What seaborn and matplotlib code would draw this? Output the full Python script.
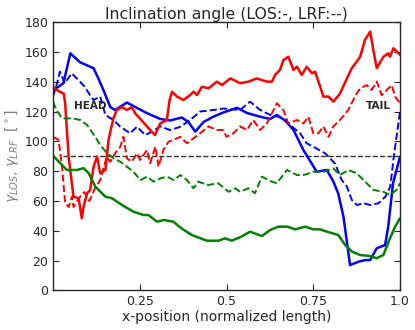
import numpy as np
import pandas as pd
import matplotlib
matplotlib.use('Agg')
import matplotlib.pyplot as plt
import seaborn as sns

# LOS (solid) and LRF (dashed) inclination angles
blue_los_x = [0.0, 0.012, 0.03, 0.05, 0.078, 0.117, 0.131, 0.146, 0.165, 0.179, 0.213, 0.237, 0.27, 0.309, 0.338,
              0.371, 0.39, 0.41, 0.434, 0.462, 0.487, 0.53, 0.559, 0.597, 0.626, 0.645, 0.669, 0.693, 0.722, 0.76,
              0.789, 0.808, 0.822, 0.837, 0.856, 0.88, 0.9, 0.914, 0.933, 0.957, 0.966, 0.98, 1.0]
blue_los_y = [135, 136, 139, 159, 153, 149, 142, 134, 123, 121, 126, 123, 119, 115, 114,
              116, 113, 106.5, 113, 116.5, 119, 122.5, 119, 116.5, 115, 117.7, 114, 107.6, 94, 79.6,
              80.8, 73, 65, 49.5, 17, 19.3, 20.4, 20.4, 28.3, 30.5, 42.8, 72, 89.7]

blue_lrf_x = [0.0, 0.013, 0.02, 0.034, 0.054, 0.078, 0.091, 0.116, 0.136, 0.151, 0.174, 0.194, 0.222, 0.242, 0.266,
              0.285, 0.309, 0.338, 0.367, 0.395, 0.424, 0.462, 0.491, 0.539, 0.568, 0.597, 0.626, 0.65, 0.669, 0.688,
              0.712, 0.731, 0.75, 0.784, 0.813, 0.832, 0.847, 0.861, 0.876, 0.895, 0.914, 0.938, 0.958, 0.972, 0.982, 1.0]
blue_lrf_y = [130, 140, 146.7, 139, 145.6, 140, 136.6, 127.7, 130, 117.7, 114.3, 109.8, 105.4, 109.8, 104.2,
              106.5, 110, 107.5, 109.8, 114.3, 120, 121, 122, 121, 126.6, 121, 117.7, 116.5, 114, 110,
              105.4, 98.7, 96.4, 92, 85, 74, 69.6, 60.7, 57.3, 58.5, 57.3, 58.5, 63, 69.6, 89.7, 120]

red_los_x = [0.0, 0.007, 0.021, 0.031, 0.035, 0.04, 0.045, 0.059, 0.074, 0.083, 0.088, 0.098, 0.107, 0.117, 0.127,
             0.136, 0.151, 0.16, 0.174, 0.184, 0.199, 0.213, 0.227, 0.237, 0.28, 0.294, 0.309, 0.328, 0.336, 0.343,
             0.357, 0.376, 0.395, 0.405, 0.415, 0.429, 0.448, 0.472, 0.487, 0.511, 0.539, 0.563, 0.587, 0.616, 0.631,
             0.64, 0.654, 0.664, 0.678, 0.693, 0.703, 0.717, 0.731, 0.746, 0.755, 0.77, 0.779, 0.794, 0.808, 0.827,
             0.847, 0.861, 0.875, 0.885, 0.899, 0.914, 0.923, 0.933, 0.952, 0.966, 0.971, 0.981, 1.0]
red_los_y = [136.6, 135, 133, 132, 125.5, 107.6, 89.7, 62.9, 61.8, 48.4, 56, 65, 67.4, 83, 89.7,
             78.6, 80.8, 101, 115.4, 121, 123, 121, 123, 118.8, 107.6, 104.2, 112, 114.3, 127.7, 133.3,
             130, 127.7, 131, 133.3, 131, 136.6, 135.5, 140, 137.7, 142.2, 139, 140, 142.2, 140, 140,
             144.5, 147.8, 154.5, 156.7, 147.8, 150, 144.5, 150, 145.6, 146.7, 136.6, 130, 130, 126.6, 132,
             142.2, 149, 153.4, 156.7, 168, 173.5, 161.2, 149, 156.7, 159, 156.7, 162.4, 158]

red_lrf_x = [0.0, 0.016, 0.026, 0.035, 0.045, 0.055, 0.059, 0.075, 0.09, 0.105, 0.12,
             0.136, 0.155, 0.165, 0.179, 0.194, 0.203, 0.213, 0.227, 0.242, 0.251,
             0.271, 0.28, 0.295, 0.304, 0.318, 0.333, 0.347, 0.367, 0.386, 0.405,
             0.424, 0.448, 0.472, 0.491, 0.5, 0.52, 0.539, 0.559, 0.577, 0.597,
             0.616, 0.626, 0.645, 0.664, 0.678, 0.703, 0.722, 0.736, 0.75, 0.765,
             0.779, 0.794, 0.808, 0.827, 0.851, 0.87, 0.885, 0.904, 0.918, 0.933,
             0.947, 0.962, 0.976, 0.986, 1.0]
red_lrf_y = [103, 101, 83, 58.5, 56, 63, 56, 62, 66, 60, 68,
             74, 89.7, 86.3, 92, 96.4, 103, 88.6, 86.3, 92, 87.5,
             94.2, 85.3, 96.4, 83, 94.2, 99.8, 101, 103, 98.7, 102,
             105.4, 110, 107.6, 107.6, 103, 105.4, 110, 107.6, 114.3, 107.6,
             112, 116.5, 125.5, 121, 112, 114.3, 112, 116.5, 105.4, 105.4,
             110, 103, 110, 114.3, 121, 130, 135.5, 137.7, 134.4, 140,
             131, 134.4, 137.7, 130, 125.5]

green_los_x = [0.0, 0.017, 0.04, 0.069, 0.088, 0.103, 0.122, 0.151, 0.17, 0.199, 0.232, 0.261, 0.275, 0.3, 0.319,
               0.347, 0.37, 0.4, 0.443, 0.477, 0.496, 0.515, 0.539, 0.568, 0.602, 0.626, 0.65, 0.675, 0.698, 0.727,
               0.75, 0.77, 0.79, 0.822, 0.842, 0.862, 0.885, 0.914, 0.933, 0.952, 0.971, 0.986, 1.0]
green_los_y = [90.5, 86.3, 80.8, 80.8, 82, 78.6, 69.6, 62.9, 61.8, 57.3, 52.8, 50.6, 50.6, 46.1, 47.3,
               46.1, 41.7, 37.2, 33.4, 33.4, 35, 33.4, 35.7, 39.4, 36.5, 40.6, 42.8, 42.8, 41, 42.8,
               41, 41, 39.4, 37.2, 30.5, 26, 23.8, 23.1, 21.6, 23.8, 35, 42.8, 48.4]

green_lrf_x = [0.0, 0.01, 0.026, 0.055, 0.079, 0.098, 0.122, 0.136, 0.156, 0.175, 0.194, 0.213, 0.232, 0.252, 0.271,
               0.29, 0.31, 0.329, 0.348, 0.367, 0.386, 0.405, 0.418, 0.447, 0.476, 0.506, 0.525, 0.539, 0.563, 0.582,
               0.602, 0.63, 0.645, 0.674, 0.703, 0.722, 0.751, 0.78, 0.808, 0.827, 0.851, 0.875, 0.904, 0.923, 0.952,
               0.971, 0.99, 1.0]
green_lrf_y = [126.6, 121, 115.4, 115.4, 114.3, 111, 103, 97.5, 92, 88.6, 86.3, 83, 79.6, 74, 76.3,
               73, 75.2, 76.3, 74, 77.4, 74, 68.5, 73, 70.7, 71.9, 66.2, 68.5, 66.2, 68.5, 65.2,
               76.3, 73, 71.9, 80.8, 77.4, 77.4, 79.6, 79.6, 81.9, 77.4, 80.8, 78.6, 71.9, 67.4, 66.2,
               64, 67.4, 71.9]

sns.set_style('ticks')
plt.rcParams['xtick.direction'] = 'in'
plt.rcParams['ytick.direction'] = 'in'

fig = plt.figure(figsize=(4.15, 3.3), dpi=100)
ax = fig.add_axes([0.1277, 0.1197, 0.8362, 0.8136])

ax.plot([0.03, 1.0], [90, 90], color='k', ls='--', lw=1, alpha=0.8)

curves = [
    (blue_los_x, blue_los_y, 'blue', '-', 1.8),
    (blue_lrf_x, blue_lrf_y, 'blue', '--', 1.4),
    (red_los_x, red_los_y, 'red', '-', 1.8),
    (red_lrf_x, red_lrf_y, 'red', '--', 1.4),
    (green_los_x, green_los_y, 'green', '-', 1.8),
    (green_lrf_x, green_lrf_y, 'green', '--', 1.4),
]
for x, y, col, ls, lw in curves:
    df = pd.DataFrame({'x': x, 'y': y})
    sns.lineplot(data=df, x='x', y='y', sort=False, estimator=None, color=col,
                 linestyle=ls, linewidth=lw, ax=ax)

ax.text(0.108, 123.5, 'HEAD', fontsize=7.5, fontweight='bold', ha='center', va='center')
ax.text(0.937, 123.5, 'TAIL', fontsize=7.5, fontweight='bold', ha='center', va='center')

ax.set_xlim(0, 1)
ax.set_ylim(0, 180)
ax.set_xticks([0.25, 0.5, 0.75, 1.0])
ax.set_xticklabels(['0.25', '0.5', '0.75', '1.0'])
ax.set_yticks(range(0, 181, 20))
ax.tick_params(labelsize=9, top=True, right=True, length=4, width=0.8)
for s in ax.spines.values():
    s.set_linewidth(1)
ax.set_title('Inclination angle (LOS:-, LRF:--)', fontsize=11.3, pad=2)
ax.set_xlabel('x-position (normalized length)', fontsize=10, labelpad=1)
ax.set_ylabel(r'$\gamma_{LOS}$, $\gamma_{LRF}$  [$^\circ$]', fontsize=10, color='gray', labelpad=2)

fig.savefig('out.png', dpi=100)
